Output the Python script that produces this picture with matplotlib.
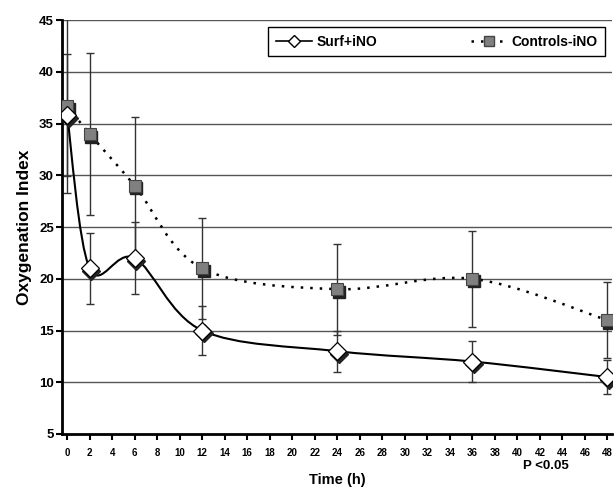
import matplotlib

matplotlib.use("Agg")
import matplotlib.pyplot as plt
import numpy as np
from matplotlib.path import Path
from matplotlib.patches import PathPatch
from matplotlib.lines import Line2D

plt.rcParams["font.family"] = ["Liberation Sans", "DejaVu Sans"]

# ── Data ──────────────────────────────────────────────────────────────────────
hours = [0, 2, 6, 12, 24, 36, 48]
surf_mean = [35.8, 21.0, 22.0, 15.0, 13.0, 12.0, 10.5]
surf_err = [5.9, 3.4, 3.5, 2.4, 2.0, 1.95, 1.6]
ctrl_mean = [36.7, 34.0, 29.0, 21.0, 19.0, 20.0, 16.0]
ctrl_err = [8.4, 7.8, 6.6, 4.9, 4.4, 4.65, 3.65]

x_ticks = list(range(0, 49, 2))
y_ticks = list(range(5, 46, 5))

DOTTED = (0, (1.0, 2.8))


def smooth_path(xs, ys):
    # Excel-style smoothed line: cubic Bezier through the points
    pts = np.column_stack([xs, ys]).astype(float)
    verts = [pts[0]]
    codes = [Path.MOVETO]
    n = len(pts)
    for i in range(n - 1):
        p0 = pts[i - 1] if i > 0 else pts[i]
        p1 = pts[i]
        p2 = pts[i + 1]
        p3 = pts[i + 2] if i + 2 < n else pts[i + 1]
        c1 = p1 + (p2 - p0) / 6.0
        c2 = p2 - (p3 - p1) / 6.0
        verts += [c1, c2, p2]
        codes += [Path.CURVE4] * 3
    return Path(verts, codes)


fig = plt.figure(figsize=(6.15, 4.92), dpi=100)
ax = fig.add_axes([0.101, 0.118, 0.894, 0.841])

for y in y_ticks[1:]:
    ax.axhline(y, color="#555555", linewidth=1.0, zorder=1)

# lines
ax.add_patch(PathPatch(smooth_path(hours, surf_mean), facecolor="none",
                       edgecolor="black", linewidth=1.5, zorder=3))
ax.add_patch(PathPatch(smooth_path(hours, ctrl_mean), facecolor="none",
                       edgecolor="black", linewidth=1.8, linestyle=DOTTED,
                       zorder=3))

# error bars
ax.errorbar(hours, ctrl_mean, yerr=ctrl_err, fmt="none", ecolor="#333333",
            elinewidth=1.0, capsize=3, capthick=1.0, zorder=2)
ax.errorbar(hours, surf_mean, yerr=surf_err, fmt="none", ecolor="#333333",
            elinewidth=1.0, capsize=3, capthick=1.0, zorder=2)

# markers (with slight shadow)
ax.plot(np.array(hours) + 0.15, np.array(ctrl_mean) - 0.25, "s", ms=9,
        color="#222222", zorder=4, linestyle="none")
ax.plot(hours, ctrl_mean, "s", ms=9, markerfacecolor="#808080",
        markeredgecolor="#444444", markeredgewidth=0.8, zorder=5, linestyle="none")
ax.plot(np.array(hours) + 0.15, np.array(surf_mean) - 0.25, "D", ms=9,
        color="#222222", zorder=4, linestyle="none")
ax.plot(hours, surf_mean, "D", ms=9, markerfacecolor="white",
        markeredgecolor="black", markeredgewidth=0.9, zorder=5, linestyle="none")

ax.set_xlim(-0.45, 48.4)
ax.set_ylim(5, 45)
ax.set_xticks(x_ticks)
ax.set_yticks(y_ticks)
ax.set_xticklabels([str(t) for t in x_ticks], fontsize=7, fontweight="bold")
ax.set_yticklabels([str(t) for t in y_ticks], fontsize=9.5, fontweight="bold")
ax.tick_params(axis="x", direction="out", length=4, width=1.5, pad=6)
ax.tick_params(axis="y", direction="out", length=4, width=1.5, pad=2)

for s in ["top", "right"]:
    ax.spines[s].set_visible(False)
ax.spines["left"].set_linewidth(2.0)
ax.spines["bottom"].set_linewidth(2.0)

ax.set_xlabel("Time (h)", fontsize=10.5, fontweight="bold", labelpad=11)
ax.set_ylabel("Oxygenation Index", fontsize=12.5, fontweight="bold", labelpad=5)
ax.text(0.88, -0.078, "P <0.05", transform=ax.transAxes, fontsize=9.5,
        fontweight="bold", ha="center", va="center")

handles = [
    Line2D([], [], color="black", linewidth=1.2, marker="D", ms=6,
           markerfacecolor="white", markeredgecolor="black"),
    Line2D([], [], color="black", linewidth=1.8, linestyle=DOTTED,
           marker="s", ms=7, markerfacecolor="#808080", markeredgecolor="#444444"),
]
leg = ax.legend(handles, ["Surf+iNO", "Controls-iNO"], ncol=2,
                loc="upper right", bbox_to_anchor=(0.375, 0.911, 0.612, 0.072),
                mode="expand", borderaxespad=0,
                prop={"weight": "bold", "size": 10}, frameon=True,
                fancybox=False, edgecolor="black", framealpha=1,
                handlelength=2.6, handletextpad=0.3, borderpad=0.55)
leg.get_frame().set_linewidth(1.0)

fig.savefig("out.png", dpi=100)
